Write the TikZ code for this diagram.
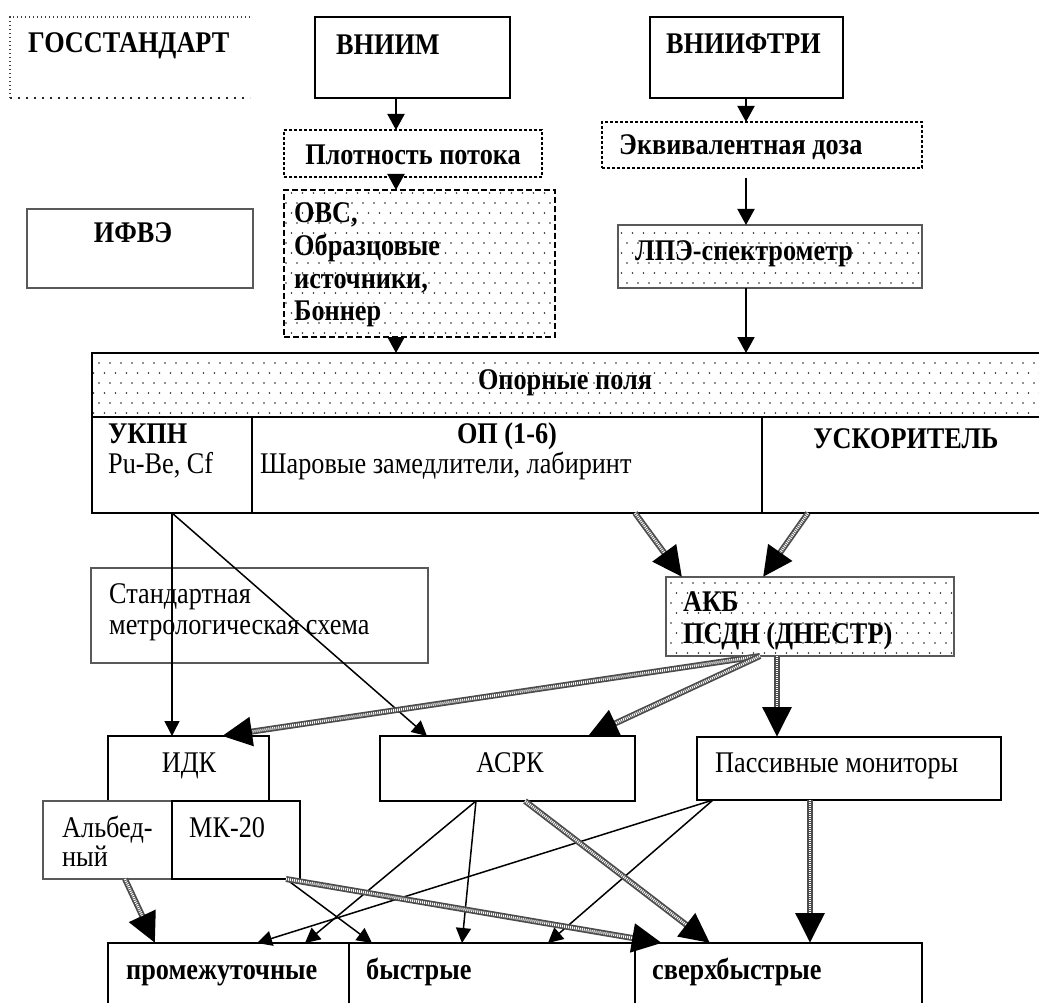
\documentclass[tikz,border=0pt]{standalone}
\usepackage{fontspec}
\setmainfont{Liberation Serif}[FakeStretch=0.875]
\usetikzlibrary{arrows.meta,patterns,calc}
\pgfdeclarepatternformonly{sdots}{\pgfqpoint{-1pt}{-1pt}}{\pgfqpoint{7pt}{11pt}}{\pgfqpoint{11pt}{20pt}}{%
  \pgfpathcircle{\pgfqpoint{0pt}{0pt}}{0.85pt}%
  \pgfpathcircle{\pgfqpoint{5.5pt}{10pt}}{0.85pt}%
  \pgfusepath{fill}}
\newcommand\mybox[6]{\node[#6, anchor=north west, inner sep=0pt, outer sep=0pt, minimum width=#4pt, minimum height=#5pt] (#1) at (#2,#3) {};}
\newcommand\hatcharr[2]{\draw[hatchbase] #1 -- #2; \draw[hatchtop] #1 -- #2;}
\begin{document}
\begin{tikzpicture}[x=1pt,y=-1pt,
  every node/.style={inner sep=0pt, font=\fontsize{30}{34}\selectfont},
  solidbox/.style={draw, line width=2pt},
  thinbox/.style={draw, line width=1.6pt},
  texbox/.style={draw=black!65, line width=1.7pt},
  fdash/.style={draw, line width=1.3pt, dash pattern=on 3pt off 2pt},
  hdash/.style={draw, line width=2pt, dash pattern=on 6pt off 3pt},
  dotfill/.style={pattern=sdots, pattern color=black!85},
  gostline/.style={draw=black!75, line width=1.2pt, dash pattern=on 1.2pt off 2.8pt},
  gostline2/.style={draw=black!85, line width=1.6pt, dash pattern=on 1.6pt off 6.4pt},
  arr/.style={line width=1.5pt, -{Triangle[length=15pt,width=15pt]}},
  toparr/.style={line width=2pt, -{Triangle[length=16pt,width=17pt]}},
  hatchbase/.style={line width=6pt, black!70, -{Triangle[length=30pt,width=28pt,color=black,fill=black]}},
  hatchtop/.style={line width=2.6pt, white, dash pattern=on 1pt off 1pt, shorten >=30pt},
  txt/.style={anchor=base west},
  ctxt/.style={anchor=base}]
\useasboundingbox (0,0) rectangle (1039,1003);
\fill[white] (0,0) rectangle (1039,1003);

% ---------- boxes ----------
\mybox{gost}{10}{17}{240}{81}{}
\draw[gostline] (gost.south west) -- (gost.north west) -- (gost.north east);
\draw[gostline2] (gost.south west) -- (gost.south east);

\mybox{vniim}{315}{17}{195}{81}{solidbox}
\mybox{vniift}{650}{17}{193}{81}{solidbox}
\mybox{plot}{284}{130}{258}{47}{fdash}
\mybox{ovs}{284}{190}{271}{147}{hdash,dotfill}
\mybox{ekv}{602}{122}{320}{46}{fdash}
\mybox{lpe}{618}{225}{304}{63}{texbox,dotfill}
\mybox{ifve}{27}{209}{226}{79}{texbox}

% Opornye polya
\mybox{opor}{92}{353}{953}{160}{}
\coordinate (band) at (92,417);
\fill[dotfill] (opor.north west) rectangle (band -| opor.east);
\coordinate (div1) at (252,417);
\coordinate (div2) at (762,417);
\draw[line width=2.2pt] (opor.north east) -- (opor.north west) -- (opor.south west) -- (opor.south east);
\draw[line width=2.2pt] (band) -- (band -| opor.east);
\draw[line width=1.6pt] (div1) -- (div1 |- opor.south);
\draw[line width=1.6pt] (div2) -- (div2 |- opor.south);

\mybox{std}{91}{568}{337}{95}{texbox}
\mybox{akb}{666}{577}{288}{79}{texbox,dotfill}
\mybox{idk}{108}{736}{161}{65}{thinbox}
\mybox{alb}{43}{801}{129}{78}{texbox}
\mybox{mk}{172}{801}{128}{78}{thinbox}
\mybox{asrk}{380}{736}{255}{65}{thinbox}
\mybox{pass}{697}{737}{304}{63}{thinbox}
\mybox{prom}{108}{943}{241}{70}{solidbox}
\mybox{bys}{349}{943}{286}{70}{solidbox}
\mybox{sverh}{635}{943}{287}{70}{solidbox}

% ---------- texts ----------
\node[txt] (t-gost) at (28,53) {\bfseries ГОССТАНДАРТ};
\node[txt] (t-vniim) at (336,55) {\bfseries ВНИИМ};
\node[txt] (t-vniift) at (666,54) {\bfseries ВНИИФТРИ};
\node[ctxt] (t-plot) at (413,165) {\bfseries Плотность потока};
\node[txt] (t-ekv) at (619,155) {\bfseries Эквивалентная доза};
\node[txt] (t-ovs1) at (294,223) {\bfseries ОВС,};
\node[txt] (t-ovs2) at (294,256) {\bfseries Образцовые};
\node[txt] (t-ovs3) at (294,288) {\bfseries источники,};
\node[txt] (t-ovs4) at (294,320) {\bfseries Боннер};
\node[txt] (t-lpe) at (635,261) {\bfseries ЛПЭ-спектрометр};
\node[ctxt] (t-ifve) at (133,243) {\bfseries ИФВЭ};
\node[ctxt] (t-opor) at (565,389) {\bfseries Опорные поля};
\node[txt] (t-ukpn) at (108,443) {\bfseries УКПН};
\node[txt] (t-pube) at (108,473) {Pu-Be, Cf};
\node[ctxt] (t-op) at (507,443) {\bfseries ОП (1-6)};
\node[txt] (t-shar) at (260,473) {Шаровые замедлители, лабиринт};
\node[ctxt] (t-usk) at (906,448) {\bfseries УСКОРИТЕЛЬ};
\node[txt] (t-std1) at (109,603) {Стандартная};
\node[txt] (t-std2) at (109,634) {метрологическая схема};
\node[txt] (t-akb1) at (683,611) {\bfseries АКБ};
\node[txt] (t-akb2) at (683,643) {\bfseries ПСДН (ДНЕСТР)};
\node[ctxt] (t-idk) at (189,772) {ИДК};
\node[ctxt] (t-asrk) at (510,772) {АСРК};
\node[txt] (t-pass) at (715,772) {Пассивные мониторы};
\node[txt] (t-alb1) at (62,837) {Альбед-};
\node[txt] (t-alb2) at (62,866) {ный};
\node[txt] (t-mk) at (189,837) {МК-20};
\node[txt] (t-prom) at (126,979) {\bfseries промежуточные};
\node[txt] (t-bys) at (366,979) {\bfseries быстрые};
\node[txt] (t-sverh) at (652,979) {\bfseries сверхбыстрые};

% ---------- connectors ----------
\coordinate (xa) at (396,0);
\coordinate (xb) at (746,0);
\coordinate (ekvgap) at (746,178);
\draw[toparr] (xa |- vniim.south) -- (xa |- plot.north);
\draw[toparr] (xa |- plot.south) -- (xa |- ovs.north);
\draw[toparr] (xa |- ovs.south) -- (xa |- opor.north);
\draw[toparr] (xb |- vniift.south) -- (xb |- ekv.north);
\draw[toparr] (ekvgap) -- (xb |- lpe.north);
\draw[toparr] (xb |- lpe.south) -- (xb |- opor.north);

\coordinate (ukpnO) at (172,513);
\coordinate (asrkIn) at (427,736);
\coordinate (oporA) at (635,513);
\coordinate (oporB) at (808,513);
\coordinate (akbInA) at (682,577);
\coordinate (akbInB) at (763,577);
\coordinate (akbOut) at (760,656);
\coordinate (akbOutV) at (777,656);
\coordinate (idkIn) at (222,736);
\coordinate (asrkInB) at (588,736);
\coordinate (passIn) at (777,737);
\coordinate (asrkOut) at (476,801);
\coordinate (asrkOutB) at (525,801);
\coordinate (passOut) at (713,800);
\coordinate (passOutV) at (810,800);
\coordinate (mkOut) at (286,879);
\coordinate (albOut) at (125,879);
\coordinate (promInA) at (305,943);
\coordinate (promInB) at (257,943);
\coordinate (promInH) at (155,943);
\coordinate (bysInA) at (462,943);
\coordinate (bysInB) at (548,943);
\coordinate (bysInC) at (372,943);
\coordinate (sverhInA) at (662,943);
\coordinate (sverhInB) at (710,943);
\coordinate (sverhInV) at (810,943);

\draw[arr] (ukpnO) -- (ukpnO |- idk.north);
\draw[arr] (ukpnO) -- (asrkIn);
\draw[arr] (asrkOut) -- (promInA);
\draw[arr] (asrkOut) -- (bysInA);
\draw[arr] (passOut) -- (promInB);
\draw[arr] (passOut) -- (bysInB);
\draw[arr] (mkOut) -- (bysInC);

\hatcharr{(oporA)}{(akbInA)}
\hatcharr{(oporB)}{(akbInB)}
\hatcharr{(akbOut)}{(idkIn)}
\hatcharr{(akbOut)}{(asrkInB)}
\hatcharr{(akbOutV)}{(passIn)}
\hatcharr{(albOut)}{(promInH)}
\hatcharr{(mkOut)}{(sverhInA)}
\hatcharr{(asrkOutB)}{(sverhInB)}
\hatcharr{(passOutV)}{(sverhInV)}
\end{tikzpicture}
\end{document}
